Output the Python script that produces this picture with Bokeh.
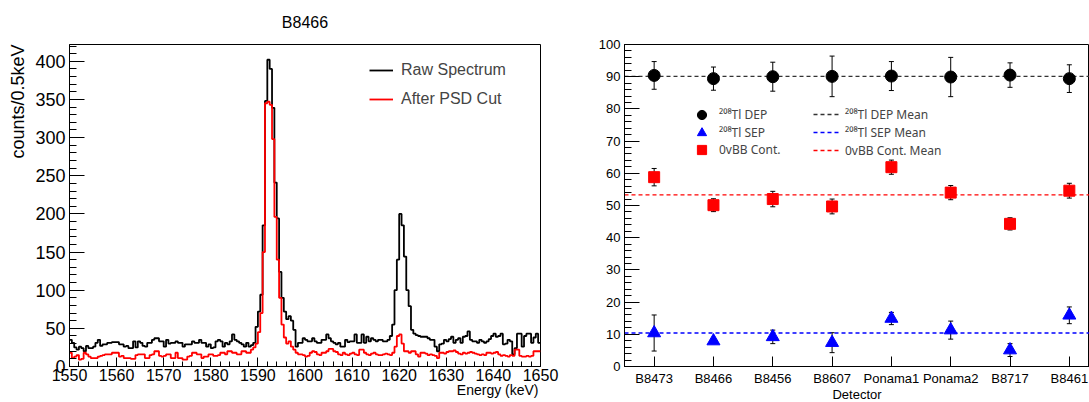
import numpy as np
from bokeh.plotting import figure
from bokeh.models import (Range1d, SingleIntervalTicker, FixedTicker, Legend, LegendItem,
                          Title, Whisker, TeeHead, ColumnDataSource)
from bokeh.layouts import row
from bokeh.embed import file_html
from bokeh.resources import INLINE

FONT = "Liberation Sans"
LEG_FONT = "Noto Sans"

# ---------------- left panel: spectrum of B8466 ----------------
e_start = 1550.0
bin_width = 0.5
raw_counts = [
    35, 31, 25, 22, 26, 24, 20, 27, 24, 24,
    26, 31, 35, 27, 29, 29, 31, 31, 32, 32,
    32, 29, 29, 26, 27, 24, 24, 33, 25, 33,
    31, 27, 26, 31, 31, 35, 37, 37, 33, 33,
    26, 35, 30, 31, 31, 33, 31, 31, 26, 29,
    29, 29, 33, 31, 31, 35, 31, 31, 26, 29,
    24, 25, 33, 35, 33, 26, 31, 29, 33, 42,
    35, 33, 31, 29, 26, 31, 26, 28, 31, 52,
    72, 94, 185, 348, 402, 390, 339, 241, 194, 124,
    90, 72, 62, 66, 60, 48, 26, 31, 31, 37,
    35, 33, 33, 37, 33, 31, 31, 35, 35, 42,
    37, 33, 31, 29, 31, 26, 26, 35, 32, 33,
    33, 42, 31, 31, 42, 31, 39, 33, 37, 35,
    33, 35, 35, 33, 33, 35, 40, 55, 100, 140,
    200, 185, 144, 100, 79, 48, 43, 41, 40, 39,
    39, 39, 37, 35, 35, 26, 20, 29, 30, 35,
    33, 36, 39, 31, 35, 37, 31, 39, 40, 46,
    35, 33, 33, 31, 35, 33, 31, 33, 36, 40,
    43, 39, 40, 43, 29, 30, 35, 33, 16, 24,
    43, 43, 26, 40, 43, 43, 31, 38, 43, 31,
]
psd_counts = [
    18, 11, 13, 15, 9, 10, 18, 16, 13, 11,
    11, 11, 13, 14, 15, 16, 16, 16, 18, 18,
    18, 13, 14, 11, 11, 11, 10, 10, 15, 16,
    16, 16, 11, 11, 15, 16, 20, 20, 14, 13,
    14, 16, 16, 11, 11, 18, 11, 11, 9, 9,
    13, 14, 18, 18, 16, 16, 11, 13, 13, 16,
    16, 14, 14, 15, 18, 18, 16, 20, 20, 18,
    18, 16, 16, 20, 20, 18, 18, 22, 25, 30,
    45, 70, 150, 345, 347, 343, 298, 196, 140, 90,
    55, 38, 30, 33, 26, 22, 18, 16, 16, 15,
    13, 14, 18, 20, 19, 16, 15, 18, 18, 20,
    23, 23, 20, 19, 16, 15, 18, 16, 15, 17,
    18, 16, 15, 22, 22, 18, 16, 15, 17, 18,
    16, 15, 15, 16, 17, 16, 15, 18, 26, 40,
    42, 30, 20, 20, 18, 20, 20, 16, 13, 18,
    18, 17, 15, 16, 15, 14, 11, 18, 18, 17,
    19, 20, 20, 21, 19, 17, 16, 18, 17, 18,
    19, 18, 17, 16, 15, 16, 15, 18, 18, 17,
    18, 19, 16, 14, 15, 14, 13, 15, 14, 22,
    22, 14, 13, 13, 14, 13, 14, 20, 20, 20,
]

# ---------------- right panel: efficiencies per detector ----------------
detectors = ["B8473", "B8466", "B8456", "B8607", "Ponama1", "Ponama2", "B8717", "B8461"]
dep_val = [90.4, 89.4, 90.0, 90.1, 90.2, 89.9, 90.5, 89.4]
dep_err = [4.3, 3.6, 4.5, 6.3, 4.5, 6.1, 3.8, 4.3]
sep_val = [10.4, 7.9, 9.2, 7.4, 14.9, 11.3, 5.1, 15.9]
sep_err = [5.6, 0.8, 2.1, 3.1, 1.9, 2.8, 2.0, 2.6]
cont_val = [58.8, 50.1, 52.0, 49.7, 61.9, 54.0, 44.3, 54.6]
cont_err = [2.7, 2.0, 2.4, 2.3, 2.2, 2.2, 1.9, 2.3]
dep_mean = 90.1
sep_mean = 10.4
cont_mean = 53.3


def style_axis(ax, size, tin, mtin, standoff):
    ax.major_tick_in = tin
    ax.major_tick_out = 0
    ax.minor_tick_in = mtin
    ax.minor_tick_out = 0
    ax.major_tick_line_color = "black"
    ax.minor_tick_line_color = "black"
    ax.axis_line_color = "black"
    ax.major_label_text_font = FONT
    ax.major_label_text_font_size = size
    ax.major_label_text_color = "black"
    ax.major_label_standoff = standoff


def plain_title(text, size, **kw):
    return Title(text=text, text_font=FONT, text_font_size=size, text_font_style="normal",
                 text_color="black", **kw)


# ---------- left figure ----------
p1 = figure(width=560, height=402, x_range=Range1d(1550, 1650), y_range=Range1d(0, 422),
            output_backend="svg", toolbar_location=None,
            min_border_left=66, min_border_right=20, min_border_top=43, min_border_bottom=36)
p1.grid.visible = False
p1.outline_line_color = "black"
p1.background_fill_color = "white"
p1.border_fill_color = "white"
p1.title = plain_title("B8466", "16px", align="center", vertical_align="top", standoff=23)

edges = [e_start + bin_width * i for i in range(len(raw_counts) + 1)]
r_raw = p1.step(edges, raw_counts + [raw_counts[-1]], mode="after", line_color="black", line_width=1.8)
r_psd = p1.step(edges, psd_counts + [psd_counts[-1]], mode="after", line_color="#ff0000", line_width=1.8)

p1.xaxis.ticker = SingleIntervalTicker(interval=10, num_minor_ticks=5)
p1.yaxis.ticker = SingleIntervalTicker(interval=50, num_minor_ticks=5)
style_axis(p1.xaxis[0], "16px", 9, 5, 2)
style_axis(p1.yaxis[0], "18px", 15, 7, 4)

p1.add_layout(plain_title("counts/0.5keV", "18px", align="right", standoff=10), "left")
p1.add_layout(plain_title("Energy (keV)", "14px", align="right", vertical_align="top",
                          offset=2, standoff=-3.5), "below")

leg_l = Legend(items=[LegendItem(label="Raw Spectrum", renderers=[r_raw]),
                      LegendItem(label="After PSD Cut", renderers=[r_psd])],
               location=(300, 257), glyph_width=24, glyph_height=20, label_height=20,
               spacing=9, padding=0, margin=0, label_standoff=8,
               border_line_color=None, background_fill_alpha=0,
               label_text_font=FONT, label_text_font_size="16px")
p1.add_layout(leg_l)

# ---------- right figure ----------
xs = list(range(len(detectors)))
p2 = figure(width=529, height=402, x_range=Range1d(-0.5, 7.34), y_range=Range1d(0, 100),
            output_backend="svg", toolbar_location=None,
            min_border_left=64, min_border_right=0, min_border_top=44, min_border_bottom=35)
p2.grid.visible = False
p2.outline_line_color = "black"
p2.background_fill_color = "white"
p2.border_fill_color = "white"

p2.xaxis.ticker = FixedTicker(ticks=xs, minor_ticks=[])
p2.xaxis.major_label_overrides = {i: d for i, d in zip(xs, detectors)}
p2.yaxis.ticker = SingleIntervalTicker(interval=10, num_minor_ticks=5)
style_axis(p2.xaxis[0], "13px", 10, 0, 4)
style_axis(p2.yaxis[0], "13px", 15, 7, 4)
p2.add_layout(plain_title("Detector", "13px", align="center", vertical_align="top",
                          standoff=-4), "below")

x0, x1 = p2.x_range.start, p2.x_range.end
m_dep = p2.line([x0, x1], [dep_mean, dep_mean], line_color="#333333", line_dash="4 3", line_width=1.3)
m_sep = p2.line([x0, x1], [sep_mean, sep_mean], line_color="#0000ff", line_dash="4 3", line_width=1.3)
m_cont = p2.line([x0, x1], [cont_mean, cont_mean], line_color="#ff0000", line_dash="4 3", line_width=1.3)

for vals, errs in ((dep_val, dep_err), (sep_val, sep_err), (cont_val, cont_err)):
    src = ColumnDataSource(dict(x=xs, lower=[v - e for v, e in zip(vals, errs)],
                                upper=[v + e for v, e in zip(vals, errs)]))
    p2.add_layout(Whisker(source=src, base="x", lower="lower", upper="upper", level="underlay",
                          line_color="black", line_width=1,
                          upper_head=TeeHead(size=5, line_color="black", line_width=1),
                          lower_head=TeeHead(size=5, line_color="black", line_width=1)))

r_dep = p2.scatter(xs, dep_val, marker="circle", size=12, color="black")
r_sep = p2.scatter(xs, sep_val, marker="triangle", size=13, color="#0000ff")
r_cont = p2.scatter(xs, cont_val, marker="square", size=11, color="#ff0000")

# marker legend: one entry per legend so rows can sit closer than the glyph box
for label, rend, ypos in (("²⁰⁸Tl DEP", r_dep, 240.5), ("²⁰⁸Tl SEP", r_sep, 222.5),
                          ("0vBB Cont.", r_cont, 205)):
    p2.add_layout(Legend(items=[LegendItem(label=label, renderers=[rend])],
                         location=(66, ypos), glyph_width=23, glyph_height=23, label_height=23,
                         padding=0, margin=0, label_standoff=6,
                         border_line_color=None, background_fill_alpha=0,
                         label_text_font=LEG_FONT, label_text_font_size="12px"))
leg2 = Legend(items=[LegendItem(label="²⁰⁸Tl DEP Mean", renderers=[m_dep]),
                     LegendItem(label="²⁰⁸Tl SEP Mean", renderers=[m_sep]),
                     LegendItem(label="0vBB Cont. Mean", renderers=[m_cont])],
              location=(189, 207), glyph_width=27, glyph_height=18, label_height=18,
              spacing=0, padding=0, margin=0, label_standoff=5,
              border_line_color=None, background_fill_alpha=0,
              label_text_font=LEG_FONT, label_text_font_size="12px")
p2.add_layout(leg2)

layout = row(p1, p2)
open("out.html", "w").write(file_html(layout, INLINE))
